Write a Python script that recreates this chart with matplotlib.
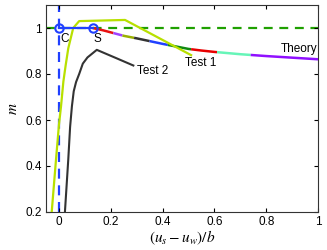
import matplotlib
matplotlib.use("Agg")
import matplotlib.pyplot as plt
import numpy as np

plt.rcParams['font.family'] = ['Liberation Sans', 'DejaVu Sans']
plt.rcParams['mathtext.fontset'] = 'stix'

# Theory curve (from S to x=1)
theory_x = [0.13, 0.17, 0.21, 0.25, 0.30, 0.35, 0.40, 0.45, 0.50, 0.55, 0.60, 0.70, 0.80, 0.90, 1.00]
theory_y = [1.000, 0.990, 0.978, 0.966, 0.955, 0.943, 0.931, 0.920, 0.909, 0.902, 0.896, 0.886, 0.878, 0.871, 0.864]
# colour segments along theory (x breakpoints)
seg_breaks = [0.13, 0.21, 0.245, 0.29, 0.35, 0.42, 0.51, 0.61, 0.74, 1.00]
seg_colors = ['#e81010', '#a040ff', '#9ab000', '#333333', '#2040ff', '#108a10', '#e80000', '#66f5b8', '#9010ff']

# Test 1
test1_x = [-0.028, -0.012, 0.000, 0.008, 0.017, 0.026, 0.036, 0.055, 0.078, 0.255, 0.51]
test1_y = [0.20, 0.42, 0.58, 0.660, 0.767, 0.839, 0.912, 1.000, 1.030, 1.035, 0.882]
# Test 2
test2_x = [0.023, 0.036, 0.043, 0.050, 0.057, 0.066, 0.078, 0.092, 0.110, 0.146, 0.223, 0.287]
test2_y = [0.20, 0.43, 0.57, 0.66, 0.725, 0.765, 0.800, 0.845, 0.872, 0.905, 0.868, 0.837]

C_pt = (0.0, 1.0)
S_pt = (0.13, 1.0)

fig = plt.figure(figsize=(3.27, 2.5), dpi=100)
ax = fig.add_axes([0.1407, 0.152, 0.832, 0.828])

ax.axhline(1.0, color='#1fa000', ls=(0, (4, 3)), lw=1.6, zorder=1)
ax.axvline(0.0, color='#2040ff', ls=(0, (4.5, 3)), lw=1.6, zorder=1)

ax.plot(test2_x, test2_y, color='#333333', lw=1.5, zorder=2)

tx = np.array(theory_x)
ty = np.array(theory_y)
for i, c in enumerate(seg_colors):
    a, b = seg_breaks[i], seg_breaks[i + 1]
    xs = np.concatenate(([a], tx[(tx > a) & (tx < b)], [b]))
    ys = np.interp(xs, tx, ty)
    ax.plot(xs, ys, color=c, lw=1.8, solid_capstyle='butt', zorder=3)

ax.plot(test1_x, test1_y, color='#b8e000', lw=1.6, zorder=4)

ax.plot([C_pt[0], S_pt[0]], [C_pt[1], S_pt[1]], color='#2040ff', lw=1.6, zorder=5)
ax.plot([C_pt[0], S_pt[0]], [C_pt[1], S_pt[1]], 'o', ms=6, mfc='none', mec='#2040ff', mew=1.5, zorder=6)

ax.text(0.022, 0.953, 'C', ha='center', va='center', fontsize=8.5)
ax.text(0.15, 0.953, 'S', ha='center', va='center', fontsize=8.5)
ax.text(0.303, 0.812, 'Test 2', ha='left', va='center', fontsize=8.5)
ax.text(0.487, 0.848, 'Test 1', ha='left', va='center', fontsize=8.5)
ax.text(0.998, 0.909, 'Theory', ha='right', va='center', fontsize=8.5)

ax.set_xlim(-0.05, 1.0)
ax.set_ylim(0.2, 1.1)
ax.set_xticks([0, 0.2, 0.4, 0.6, 0.8, 1])
ax.set_xticklabels(['0', '0.2', '0.4', '0.6', '0.8', '1'])
ax.set_yticks([0.2, 0.4, 0.6, 0.8, 1])
ax.set_yticklabels(['0.2', '0.4', '0.6', '0.8', '1'])
ax.tick_params(direction='in', top=True, right=True, length=3, width=0.8, labelsize=8.5, pad=3)
for s in ax.spines.values():
    s.set_linewidth(0.8)
    s.set_color('#333333')

ax.set_ylabel(r'$m$', fontsize=11, labelpad=4)
ax.set_xlabel(r'$(u_s - u_w)/b$', fontsize=11, labelpad=0)

fig.savefig('out.png', dpi=100)
